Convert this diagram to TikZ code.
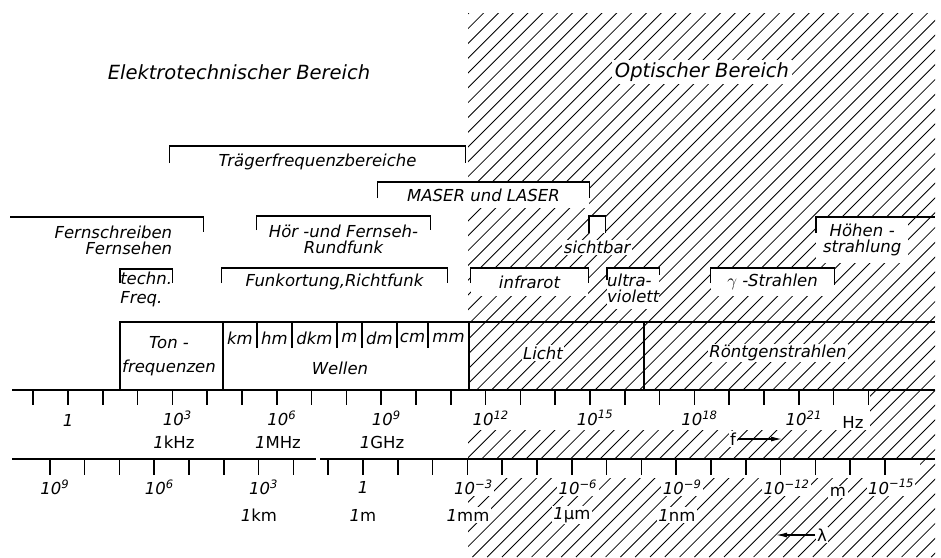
\documentclass[tikz,border=0pt]{standalone}
\usepackage{fontspec}
\setmainfont{DejaVu Sans}
\usetikzlibrary{positioning,arrows,arrows.meta}

\newcommand{\tp}[1]{10\textsuperscript{#1}}

\begin{document}
\begin{tikzpicture}[
  x=1pt, y=-1pt,
  >={Latex[length=11pt,width=5pt]},
  axis/.style={line width=1.6pt},
  brk/.style={line width=1.3pt},
  hatch/.style={line width=0.85pt},
  lbl/.style={font=\fontsize{16.5}{16}\selectfont\itshape, inner sep=1.5pt, fill=white},
  upr/.style={font=\fontsize{16.5}{16}\selectfont, inner sep=1.5pt, fill=white},
  head/.style={font=\fontsize{19.5}{22}\selectfont\itshape, inner sep=3pt, fill=white},
  bbox/.style={lbl, inner sep=0pt, minimum height=28pt, anchor=north}
]
  \useasboundingbox (0,0) rectangle (941,557);

  % Hatching of the optical range
  \begin{scope}
    \clip (468,13) rectangle (935,557);
    \foreach \x in {-90,-75.2,...,940}
      \draw[hatch] (\x,557) -- ++(560,-560);
  \end{scope}
  \fill[white] (468,391) rectangle (870,430);
  \fill[white] (468,460) rectangle (920,478);

  % Headings
  \node[head] (elt) at (239,72) {Elektrotechnischer Bereich};
  \node[head] (opt) at (702,72) {Optischer Bereich};

  % Brackets
  \node[bbox, minimum width=295, minimum height=32] (tfb) at (317.5,146) {Trägerfrequenzbereiche};
  \node[bbox, minimum width=211, minimum height=26] (mls) at (483.5,182) {MASER und LASER};
  \node[bbox, anchor=north west, minimum width=193, minimum height=46,
        text width=131, align=right] (fsf) at (10,217) {Fernschreiben\\Fernsehen};
  \node[bbox, minimum width=173, minimum height=46, align=center] (hrf) at (343.5,216) {Hör -und Fernseh-\\Rundfunk};
  \node[bbox, anchor=north west, minimum width=16, minimum height=17] (sbk) at (589,216) {};
  \node[lbl, below=6pt of sbk] (sbt) {sichtbar};
  \node[bbox, anchor=north west, minimum width=92, minimum height=46,
        text width=92, align=center] (hst) at (816,217) {Höhen -\\strahlung};
  \coordinate (hse) at (935,217);
  \node[bbox, anchor=north west, minimum width=52, minimum height=39.5,
        align=left] (tfq) at (120,269) {techn.\\[3pt]Freq.};
  \node[bbox, minimum width=225] (fkr) at (334.5,268) {Funkortung,Richtfunk};
  \node[bbox, minimum width=117] (irr) at (529.5,268) {infrarot};
  \node[bbox, anchor=north west, minimum width=51, minimum height=40.5,
        align=left] (uvt) at (607,268) {ultra-\\violett};
  \node[bbox, minimum width=123] (gst) at (772.5,268) {$\gamma$ -Strahlen};

  \draw[brk] ([yshift=-17pt]tfb.north west) -- (tfb.north west) -- (tfb.north east) -- ([yshift=-17pt]tfb.north east);
  \draw[brk] ([yshift=-16pt]mls.north west) -- (mls.north west) -- (mls.north east) -- ([yshift=-16pt]mls.north east);
  \draw[brk] (fsf.north west) -- (fsf.north east) -- ([yshift=-15pt]fsf.north east);
  \draw[brk] ([yshift=-14pt]hrf.north west) -- (hrf.north west) -- (hrf.north east) -- ([yshift=-14pt]hrf.north east);
  \draw[brk] ([yshift=-17pt]sbk.north west) -- (sbk.north west) -- (sbk.north east) -- ([yshift=-17pt]sbk.north east);
  \draw[brk] ([yshift=-16pt]hst.north west) -- (hst.north west) -- (hse);
  \draw[brk] ([yshift=-14pt]tfq.north west) -- (tfq.north west) -- (tfq.north east) -- ([yshift=-14pt]tfq.north east);
  \draw[brk] ([yshift=-15pt]fkr.north west) -- (fkr.north west) -- (fkr.north east) -- ([yshift=-15pt]fkr.north east);
  \draw[brk] ([yshift=-15pt]irr.north west) -- (irr.north west) -- (irr.north east) -- ([yshift=-15pt]irr.north east);
  \draw[brk] ([yshift=-12pt]uvt.north west) -- (uvt.north west) -- (uvt.north east) -- ([yshift=-7pt]uvt.north east);
  \draw[brk] ([yshift=-15pt]gst.north west) -- (gst.north west) -- (gst.north east) -- ([yshift=-17pt]gst.north east);

  % Row of ranges
  \draw[axis] (120,390) |- (935,322);
  \foreach \x in {223,469,644}
    \draw[axis] (\x,322) -- (\x,390);
  \foreach \x in {257,292,337,362,397,428}
    \draw[brk] (\x,322) -- (\x,348);
  \node[lbl, align=center] (ton) at (169,356) {Ton -\\[8pt]frequenzen};
  \foreach \x/\t in {240/km,274.5/hm,314.5/dkm,349.5/m,379.5/dm,412.5/cm,448.5/mm}
    \node[lbl, inner sep=0.5pt] (w\t) at (\x,338) {\t};
  \node[lbl] (wel) at (340,368) {Wellen};
  \node[lbl] (lic) at (543,353) {Licht};
  \node[lbl] (roe) at (778,353) {Röntgenstrahlen};

  % Frequency scale
  \node[lbl] (f0) at (68,420) {1};
  \foreach \d/\n in {3/fa,6/fb,9/fc,12/fd,15/fe,18/ff,21/fg}
    \node[lbl] (\n) at (68+34.8*\d+5,418) {\tp{\d}};
  \node[lbl] (khz) at (174,442) {1{\upshape kHz}};
  \node[lbl] (mhz) at (278,442) {1{\upshape MHz}};
  \node[lbl] (ghz) at (382,442) {1{\upshape GHz}};
  \node[upr] (hz) at (853,422) {Hz};
  \node[upr] (fsy) at (733,439) {f};
  \coordinate (fen) at (782,439);
  \draw[->, line width=1.2pt] (fsy.east) -- (fsy.east -| fen);
  \draw[axis] (12,390) -- (935,390);
  \foreach \d in {-1,...,23}
    \draw[axis] (68+34.8*\d,390) -- ++(0,15);

  % Wavelength scale
  \foreach \e/\n in {9/la,6/lb,3/lc}
    \node[lbl] (\n) at (363-34.8*\e+5,487) {\tp{\e}};
  \node[lbl] (ld) at (363,487) {1};
  \foreach \e/\n in {3/le,6/lf,9/lg,12/lh,15/li}
    \node[lbl] (\n) at (363+34.8*\e+6,487) {\tp{−\e}};
  \node[lbl] (lkm) at (259,515) {1{\upshape km}};
  \node[lbl] (lm) at (363,515) {1{\upshape m}};
  \node[lbl] (lmm) at (468,515) {1{\upshape mm}};
  \node[lbl] (lum) at (572,515) {1{\upshape µm}};
  \node[lbl] (lnm) at (677,515) {1{\upshape nm}};
  \node[upr] (lme) at (838,492) {m};
  \node[upr] (lam) at (822,535) {λ};
  \coordinate (len) at (776,535);
  \draw[->, line width=1.2pt] (lam.west) -- (lam.west -| len);
  \draw[axis] (12,459) -- (316,459);
  \draw[axis] (320,459) -- (935,459);
  \foreach \e in {-15,...,9}
    \draw[axis] (363-34.8*\e,459) -- ++(0,16);

\end{tikzpicture}
\end{document}
